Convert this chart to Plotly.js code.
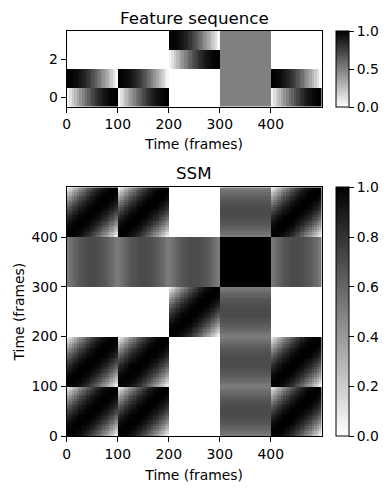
<!DOCTYPE html>
<html>
<head>
<meta charset="utf-8">
<script src="https://cdn.plot.ly/plotly-3.0.1.min.js"></script>
<style>html,body{margin:0;padding:0;background:#fff;}#chart{width:390px;height:489px;}</style>
</head>
<body>
<div id="chart"></div>
<script>
// ---- data ----
const framesPerColumn = 5;                 // each feature column covers 5 frames
const segmentLabels = ['A', 'A', 'C', 'D', 'A']; // 100-frame segments
const rampUp   = [0.04,0.12,0.20,0.27,0.35,0.42,0.49,0.56,0.62,0.68,0.73,0.79,0.83,0.87,0.91,0.94,0.96,0.98,0.99,1.00];
const rampDown = [1.00,0.99,0.98,0.96,0.94,0.91,0.87,0.83,0.79,0.73,0.68,0.62,0.56,0.49,0.42,0.35,0.27,0.20,0.12,0.04];
const flatZero = [0,0,0,0,0,0,0,0,0,0,0,0,0,0,0,0,0,0,0,0];
const flatHalf = [0.5,0.5,0.5,0.5,0.5,0.5,0.5,0.5,0.5,0.5,0.5,0.5,0.5,0.5,0.5,0.5,0.5,0.5,0.5,0.5];
// feature rows 0..3 of each segment type
const segmentA = [rampUp, rampDown, flatZero, flatZero];
const segmentC = [flatZero, flatZero, rampUp, rampDown];
const segmentD = [flatHalf, flatHalf, flatHalf, flatHalf];
const xTicks = [0, 100, 200, 300, 400];
const featYTicks = [0, 2];
const ssmYTicks = [0, 100, 200, 300, 400];
const featCbTicks = [0, 0.5, 1];
const featCbText = ['0.0', '0.5', '1.0'];
const ssmCbTicks = [0, 0.2, 0.4, 0.6, 0.8, 1.0];
const ssmCbText = ['0.0', '0.2', '0.4', '0.6', '0.8', '1.0'];

// ---- build feature sequence (4 x N) ----
const segMap = {A: segmentA, C: segmentC, D: segmentD};
const featZ = [[], [], [], []];
segmentLabels.forEach(lab => {
  const seg = segMap[lab];
  for (let r = 0; r < 4; r++) featZ[r] = featZ[r].concat(seg[r]);
});
const N = featZ[0].length;
// ---- self-similarity matrix (inner products of feature vectors) ----
const ssmZ = [];
for (let i = 0; i < N; i++) {
  const row = [];
  for (let j = 0; j < N; j++) {
    let s = 0;
    for (let r = 0; r < 4; r++) s += featZ[r][i] * featZ[r][j];
    row.push(s);
  }
  ssmZ.push(row);
}

const grayR = [[0, '#ffffff'], [1, '#000000']];
const FONT = 'DejaVu Sans, sans-serif';
const tickFont = {family: FONT, size: 13.9, color: '#000'};

const W = 390, H = 489;
const px = v => v / W, py = v => 1 - v / H;
const plotL = 66.7, plotR = 321.7;
const featTop = 31, featBot = 106.5;
const ssmTop = 187.3, ssmBot = 436;
const cbLeft = 336, cbThick = 13;

function cb(top, bot, vals, text) {
  return {
    thickness: cbThick, thicknessmode: 'pixels',
    len: (bot - top) / H, lenmode: 'fraction',
    x: px(cbLeft), xanchor: 'left', xpad: 0,
    y: py(top), yanchor: 'top', ypad: 0,
    outlinewidth: 1, outlinecolor: '#000',
    ticks: 'outside', ticklen: 5, tickwidth: 1, tickcolor: '#000',
    tickvals: vals, ticktext: text, tickfont: tickFont
  };
}

const traces = [
  {type: 'heatmap', z: featZ, x0: framesPerColumn / 2, dx: framesPerColumn, y0: 0, dy: 1,
   colorscale: grayR, zmin: 0, zmax: 1, xaxis: 'x', yaxis: 'y',
   colorbar: cb(featTop, featBot, featCbTicks, featCbText), hoverinfo: 'skip'},
  {type: 'heatmap', z: ssmZ, x0: framesPerColumn / 2, dx: framesPerColumn,
   y0: framesPerColumn / 2, dy: framesPerColumn,
   colorscale: grayR, zmin: 0, zmax: 1, xaxis: 'x2', yaxis: 'y2',
   colorbar: cb(ssmTop, ssmBot, ssmCbTicks, ssmCbText), hoverinfo: 'skip'}
];

function axis(extra) {
  return Object.assign({
    showline: true, mirror: true, linecolor: '#000', linewidth: 1,
    ticks: 'outside', ticklen: 5, tickwidth: 1, tickcolor: '#000',
    showgrid: false, zeroline: false, tickfont: tickFont, fixedrange: true
  }, extra);
}
const titleFont = {family: FONT, size: 13.9, color: '#000'};

const layout = {
  width: W, height: H, autosize: false,
  margin: {l: 0, r: 0, t: 0, b: 0, pad: 0},
  paper_bgcolor: '#fff', plot_bgcolor: '#fff',
  showlegend: false,
  font: {family: FONT, color: '#000'},
  xaxis: axis({domain: [px(plotL), px(plotR)], range: [0, 500], anchor: 'y',
    tickvals: xTicks, title: {text: 'Time (frames)', font: titleFont, standoff: 8}}),
  yaxis: axis({domain: [py(featBot), py(featTop)], range: [-0.5, 3.5], anchor: 'x',
    tickvals: featYTicks}),
  xaxis2: axis({domain: [px(plotL), px(plotR)], range: [0, 500], anchor: 'y2',
    tickvals: xTicks, title: {text: 'Time (frames)', font: titleFont, standoff: 9}}),
  yaxis2: axis({domain: [py(ssmBot), py(ssmTop)], range: [0, 500], anchor: 'x2',
    tickvals: ssmYTicks, title: {text: 'Time (frames)', font: titleFont, standoff: 3}}),
  annotations: [
    {text: 'Feature sequence', xref: 'paper', yref: 'paper',
     x: px((plotL + plotR) / 2), y: py(featTop), xanchor: 'center', yanchor: 'bottom',
     yshift: 1, showarrow: false, font: {family: FONT, size: 16.7, color: '#000'}},
    {text: 'SSM', xref: 'paper', yref: 'paper',
     x: px((plotL + plotR) / 2), y: py(ssmTop), xanchor: 'center', yanchor: 'bottom',
     yshift: 2, showarrow: false, font: {family: FONT, size: 16.7, color: '#000'}}
  ]
};

Plotly.newPlot('chart', traces, layout, {staticPlot: true, displayModeBar: false});
</script>
</body>
</html>
